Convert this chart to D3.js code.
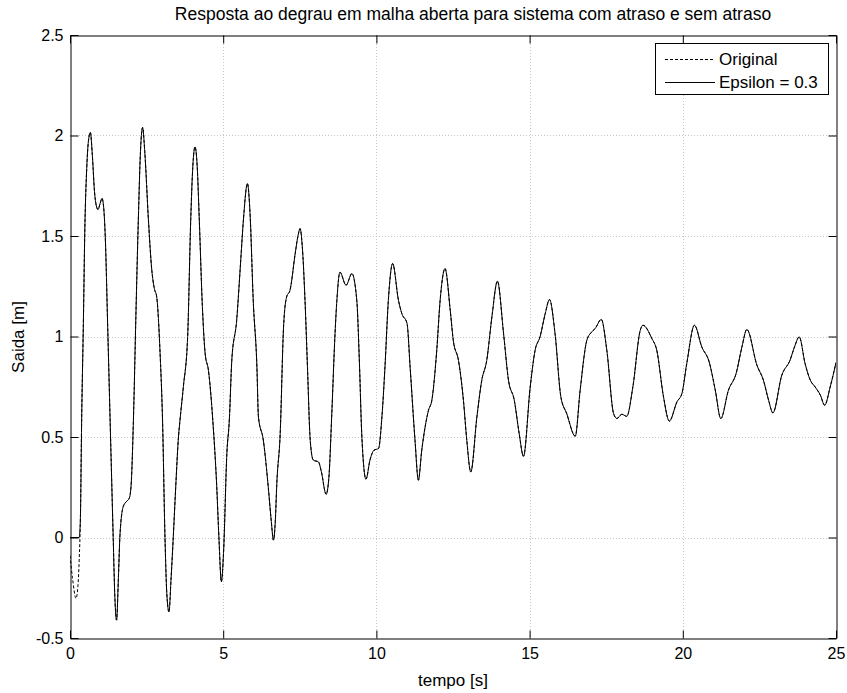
<!DOCTYPE html>
<html>
<head>
<meta charset="utf-8">
<script src="https://cdn.jsdelivr.net/npm/d3@7"></script>
<style>
  html, body { margin: 0; padding: 0; background: #fff; }
  svg { display: block; }
  text { font-family: "Liberation Sans", Arial, Helvetica, sans-serif; fill: #000; }
</style>
</head>
<body>
<svg id="chart" width="847" height="693"></svg>
<script>
// Start of each response (before the two curves coincide)
const tOriginalStart = [0, 0.08, 0.196, 0.26, 0.30, 0.34];
const yOriginalStart = [-0.09, -0.2, -0.303, -0.24, -0.113, 0.1];
const tEpsilonStart = [0, 0.30, 0.31, 0.34];
const yEpsilonStart = [0, 0, 0.01, 0.1];

// Shared part of the response, tempo [s] and saida [m]
const tempo = [
  0.38, 0.44, 0.48, 0.55, 0.60, 0.665, 0.73, 0.80, 0.86, 0.915, 0.98, 1.045, 1.10, 1.15, 1.23, 1.31, 1.41, 1.46, 1.52, 1.58, 1.63, 1.74, 1.85, 1.93, 1.99, 2.07, 2.15, 2.23, 2.30, 2.37, 2.44, 2.56, 2.67, 2.75, 2.83, 2.94, 3.02, 3.10, 3.16, 3.23, 3.30, 3.37, 3.45, 3.54, 3.59, 3.70, 3.84, 3.94, 4.01, 4.08, 4.15, 4.22, 4.32, 4.41, 4.52, 4.66, 4.79, 4.86, 4.94, 5.01, 5.12, 5.20, 5.28, 5.44, 5.56, 5.66, 5.79, 5.88, 5.98, 6.10, 6.15, 6.31, 6.47, 6.57, 6.64, 6.70, 6.75, 6.86, 6.97, 7.07, 7.18, 7.35, 7.44, 7.51, 7.58, 7.67, 7.75, 7.84, 7.94, 8.11, 8.20, 8.36, 8.45, 8.54, 8.65, 8.71, 8.81, 9.01, 9.20, 9.36, 9.45, 9.52, 9.66, 9.79, 9.92, 10.07, 10.18, 10.28, 10.39, 10.53, 10.72, 10.83, 11.0, 11.10, 11.26, 11.37, 11.48, 11.59, 11.70, 11.81, 11.97, 12.08, 12.24, 12.41, 12.51, 12.68, 12.84, 12.95, 13.08, 13.28, 13.44, 13.60, 13.77, 13.95, 14.15, 14.31, 14.50, 14.66, 14.80, 15.02, 15.18, 15.34, 15.51, 15.65, 15.83, 16.02, 16.21, 16.49, 16.65, 16.87, 17.03, 17.14, 17.34, 17.52, 17.74, 17.85, 18.01, 18.17, 18.37, 18.61, 18.70, 18.99, 19.15, 19.37, 19.56, 19.81, 19.97, 20.13, 20.38, 20.62, 20.86, 21.06, 21.24, 21.49, 21.74, 21.93, 22.09, 22.42, 22.63, 22.80, 22.94, 23.23, 23.50, 23.65, 23.80, 23.99, 24.16, 24.32, 24.49, 24.63, 24.81, 25.0
];
const saida = [
  0.58, 1.1, 1.5, 1.85, 1.97, 2.015, 1.9, 1.72, 1.65, 1.632, 1.66, 1.687, 1.64, 1.5, 1.05, 0.58, 0.0, -0.28, -0.411, -0.2, 0.01, 0.155, 0.18, 0.194, 0.25, 0.584, 1.1, 1.58, 1.92, 2.04, 1.92, 1.579, 1.33, 1.24, 1.197, 0.917, 0.584, 0.0, -0.28, -0.37, -0.2, 0.0, 0.25, 0.5, 0.584, 0.75, 1.0, 1.58, 1.85, 1.943, 1.85, 1.58, 1.15, 0.917, 0.83, 0.584, 0.25, 0.0, -0.22, -0.08, 0.42, 0.584, 0.88, 1.081, 1.35, 1.58, 1.761, 1.6, 1.18, 0.849, 0.6, 0.484, 0.252, 0.08, -0.013, 0.08, 0.269, 0.517, 1.048, 1.197, 1.23, 1.413, 1.5, 1.537, 1.45, 1.18, 0.849, 0.484, 0.385, 0.376, 0.33, 0.215, 0.3, 0.6, 1.015, 1.18, 1.32, 1.255, 1.313, 1.18, 0.85, 0.52, 0.29, 0.385, 0.434, 0.443, 0.6, 0.849, 1.18, 1.363, 1.18, 1.114, 1.065, 0.849, 0.484, 0.285, 0.434, 0.55, 0.633, 0.683, 0.932, 1.18, 1.338, 1.13, 0.98, 0.88, 0.683, 0.484, 0.326, 0.6, 0.783, 0.88, 1.098, 1.275, 1.015, 0.783, 0.683, 0.517, 0.404, 0.749, 0.932, 0.998, 1.114, 1.184, 1.015, 0.7, 0.617, 0.504, 0.733, 0.982, 1.023, 1.04, 1.085, 0.932, 0.617, 0.592, 0.613, 0.603, 0.749, 1.03, 1.056, 0.99, 0.932, 0.7, 0.579, 0.675, 0.716, 0.866, 1.056, 0.948, 0.874, 0.733, 0.592, 0.733, 0.816, 0.948, 1.035, 0.857, 0.783, 0.683, 0.62, 0.807, 0.882, 0.95, 0.998, 0.866, 0.783, 0.749, 0.708, 0.658, 0.749, 0.87
];

const xTicks = [0, 5, 10, 15, 20, 25];
const yTicks = [-0.5, 0, 0.5, 1, 1.5, 2, 2.5];

const titleText = "Resposta ao degrau em malha aberta para sistema com atraso e sem atraso";
const xLabel = "tempo [s]";
const yLabel = "Saida [m]";
const legendLabels = ["Original", "Epsilon = 0.3"];

// ---- layout
const svg = d3.select("#chart");
const pLeft = 70, pRight = 836, pTop = 35, pBottom = 638;

const x = d3.scaleLinear().domain([0, 25]).range([pLeft, pRight]);
const y = d3.scaleLinear().domain([-0.5, 2.5]).range([pBottom, pTop]);

const pairs = (ts, vs) => ts.map((t, i) => [t, vs[i]]);
const tail = pairs(tempo, saida);
const original = pairs(tOriginalStart, yOriginalStart).concat(tail);
const epsilon = pairs(tEpsilonStart, yEpsilonStart).concat(tail);

// grid
const grid = svg.append("g").attr("stroke", "#c8c8c8").attr("stroke-width", 1).attr("stroke-dasharray", "1,2");
grid.selectAll(".gx").data(xTicks.slice(1, -1)).join("line")
  .attr("x1", d => Math.round(x(d)) + 0.5).attr("x2", d => Math.round(x(d)) + 0.5)
  .attr("y1", pTop).attr("y2", pBottom);
grid.selectAll(".gy").data(yTicks.slice(1, -1)).join("line")
  .attr("y1", d => Math.round(y(d)) + 0.5).attr("y2", d => Math.round(y(d)) + 0.5)
  .attr("x1", pLeft).attr("x2", pRight);

// curves
const line = d3.line().x(d => x(d[0])).y(d => y(d[1])).curve(d3.curveMonotoneX);
svg.append("clipPath").attr("id", "plotclip").append("rect")
  .attr("x", pLeft).attr("y", pTop).attr("width", pRight - pLeft).attr("height", pBottom - pTop);

svg.append("path").datum(original)
  .attr("clip-path", "url(#plotclip)")
  .attr("fill", "none").attr("stroke", "#000").attr("stroke-width", 1)
  .attr("stroke-dasharray", "3,2").attr("d", line);
svg.append("path").datum(epsilon)
  .attr("clip-path", "url(#plotclip)")
  .attr("fill", "none").attr("stroke", "#000").attr("stroke-width", 1)
  .attr("d", line);

// axes with inward ticks on all four sides
const fmt = d => String(d);
const fontSize = 16;
const axB = svg.append("g").attr("transform", `translate(0,${pBottom + 0.5})`)
  .call(d3.axisBottom(x).tickValues(xTicks).tickFormat(fmt).tickSizeInner(-8).tickSizeOuter(0).tickPadding(9));
const axT = svg.append("g").attr("transform", `translate(0,${pTop + 0.5})`)
  .call(d3.axisTop(x).tickValues(xTicks).tickFormat("").tickSizeInner(-8).tickSizeOuter(0));
const axL = svg.append("g").attr("transform", `translate(${pLeft + 0.5},0)`)
  .call(d3.axisLeft(y).tickValues(yTicks).tickFormat(fmt).tickSizeInner(-8).tickSizeOuter(0).tickPadding(7));
const axR = svg.append("g").attr("transform", `translate(${pRight + 0.5},0)`)
  .call(d3.axisRight(y).tickValues(yTicks).tickFormat("").tickSizeInner(-8).tickSizeOuter(0));
[axB, axT, axL, axR].forEach(g => {
  g.selectAll("path.domain").attr("stroke", "#000");
  g.selectAll(".tick line").attr("stroke", "#000");
  g.selectAll("text").attr("font-size", fontSize)
    .attr("font-family", "'Liberation Sans', Arial, sans-serif").attr("fill", "#000");
});

// titles
svg.append("text").attr("x", 473).attr("y", 20).attr("text-anchor", "middle")
  .attr("font-size", 17.5).text(titleText);
svg.append("text").attr("x", 453).attr("y", 686).attr("text-anchor", "middle")
  .attr("font-size", 17).text(xLabel);
svg.append("text").attr("transform", `translate(24,337) rotate(-90)`).attr("text-anchor", "middle")
  .attr("font-size", 17).text(yLabel);

// legend
const lg = svg.append("g");
lg.append("rect").attr("x", 655.5).attr("y", 43.5).attr("width", 173).attr("height", 51)
  .attr("fill", "#fff").attr("stroke", "#000").attr("stroke-width", 1);
const rows = [{ label: legendLabels[0], dash: "3,2", yy: 59 }, { label: legendLabels[1], dash: null, yy: 82 }];
rows.forEach(r => {
  lg.append("line").attr("x1", 665).attr("x2", 715).attr("y1", r.yy + 0.5).attr("y2", r.yy + 0.5)
    .attr("stroke", "#000").attr("stroke-width", 1).attr("stroke-dasharray", r.dash);
  lg.append("text").attr("x", 719).attr("y", r.yy + 6).attr("font-size", 17).text(r.label);
});
</script>
</body>
</html>
